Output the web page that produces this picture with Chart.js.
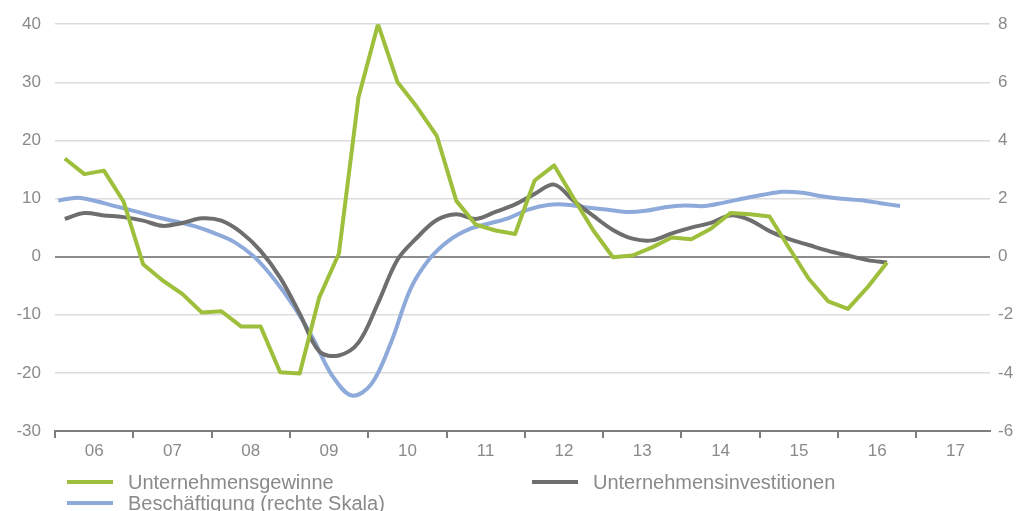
<!DOCTYPE html>
<html>
<head>
<meta charset="utf-8">
<script src="https://cdn.jsdelivr.net/npm/chart.js@4/dist/chart.umd.min.js"></script>
<style>
  html, body { margin: 0; padding: 0; background: #fff; }
  #wrap { position: relative; width: 1019px; height: 511px; }
  #legend { position: absolute; left: 0; top: 0; width: 1019px; height: 511px; pointer-events: none;
            font-family: "Liberation Sans", Arial, sans-serif; font-size: 20px; color: #8a8a8a; }
  .item { position: absolute; display: flex; align-items: center; white-space: nowrap; }
  .swatch { width: 46px; height: 4px; margin-right: 15px; }
</style>
</head>
<body>
<div id="wrap">
  <canvas id="chart" width="1019" height="511"></canvas>
  <div id="legend"></div>
</div>
<script>
// Jahre auf der x-Achse
const years = ['06', '07', '08', '09', '10', '11', '12', '13', '14', '15', '16', '17'];

// Quartalswerte ab 2006 Q1, linke Skala
const gewinne = [16.9, 14.2, 14.8, 9.5, -1.3, -4.1, -6.4, -9.6, -9.4, -12.0,
                 -12.0, -19.9, -20.1, -7.0, 0.5, 27.4, 40.0, 30.0, 25.7, 20.8,
                 9.6, 5.5, 4.5, 3.9, 13.1, 15.7, 10.0, 4.5, -0.1, 0.2,
                 1.6, 3.3, 3.0, 4.8, 7.5, 7.3, 6.9, 1.5, -3.8, -7.7,
                 -9.0, -5.3, -1.0];
const investitionen = [6.5, 7.5, 7.1, 6.8, 6.2, 5.3, 5.8, 6.6, 6.2, 4.2,
                       1.0, -3.6, -9.8, -16.3, -17.0, -14.8, -8.0, -0.5, 3.3, 6.3,
                       7.3, 6.5, 7.7, 9.0, 10.8, 12.4, 9.6, 7.0, 4.6, 3.1,
                       2.8, 4.0, 5.0, 5.8, 7.1, 6.3, 4.4, 3.0, 2.0, 1.0,
                       0.2, -0.6, -1.0];

// Beschäftigung, jeder dritte Monat ab Januar 2006, rechte Skala
const beschaeftigung = [1.93, 2.03, 1.90, 1.72, 1.55, 1.37, 1.21, 1.04, 0.80, 0.50,
                        0.0, -0.75, -1.68, -2.8, -4.1, -4.78, -4.38, -2.95, -1.1, -0.05,
                        0.58, 0.95, 1.14, 1.33, 1.62, 1.78, 1.79, 1.69, 1.62, 1.54,
                        1.58, 1.70, 1.76, 1.74, 1.86, 2.00, 2.13, 2.23, 2.20, 2.08,
                        1.99, 1.94, 1.84, 1.74];

const leftTicks = [-30, -20, -10, 0, 10, 20, 30, 40];
const rightTicks = [-6, -4, -2, 0, 2, 4, 6, 8];

const GREEN = '#9dbf3c';
const GREY = '#6e6e6e';
const BLUE = '#8eaadb';
const LABEL = '#8a8a8a';
const FONT = '"Liberation Sans", Arial, sans-serif';

// x in Jahren seit Anfang 2006; Quartalswerte in der Quartalsmitte, Monatswerte in der Monatsmitte
const quarterly = vals => vals.map((v, i) => ({ x: i * 0.25 + 0.125, y: v }));
const monthly = vals => vals.map((v, i) => ({ x: (i * 3) / 12 + 1 / 24, y: v }));

const datasets = [
  { label: 'Unternehmensgewinne', data: quarterly(gewinne), borderColor: GREEN, yAxisID: 'y', tension: 0 },
  { label: 'Unternehmensinvestitionen', data: quarterly(investitionen), borderColor: GREY, yAxisID: 'y', tension: 0.35 },
  { label: 'Beschäftigung (rechte Skala)', data: monthly(beschaeftigung), borderColor: BLUE, yAxisID: 'y2', tension: 0.35 }
];
datasets.forEach(d => {
  d.borderWidth = 4;
  d.pointRadius = 0;
  d.fill = false;
  d.borderJoinStyle = 'round';
});

new Chart(document.getElementById('chart'), {
  type: 'line',
  data: { datasets: datasets },
  options: {
    responsive: false,
    animation: false,
    layout: { padding: { top: 23, bottom: 40, left: 0, right: 0 } },
    plugins: { legend: { display: false }, tooltip: { enabled: false } },
    scales: {
      x: {
        type: 'linear',
        min: 0,
        max: 11.94,
        afterBuildTicks: axis => {
          const t = [];
          for (let i = 0; i < years.length; i++) t.push({ value: i }, { value: i + 0.5 });
          axis.ticks = t;
        },
        afterFit: axis => { axis.height = 40; },
        ticks: {
          autoSkip: false,
          maxRotation: 0,
          padding: 3,
          color: LABEL,
          font: { family: FONT, size: 17 },
          callback: v => (v % 1 === 0.5 ? years[Math.floor(v)] : '')
        },
        grid: {
          drawOnChartArea: false,
          tickLength: 7,
          lineWidth: 2,
          color: ctx => (ctx.tick && ctx.tick.value % 1 === 0 ? '#7d7d7d' : 'rgba(0,0,0,0)')
        },
        border: { display: true, color: '#7d7d7d', width: 2 }
      },
      y: {
        position: 'left',
        min: -30,
        max: 40,
        afterBuildTicks: axis => { axis.ticks = leftTicks.map(v => ({ value: v })); },
        afterFit: axis => { axis.width = 55; },
        ticks: { color: LABEL, padding: 14, font: { family: FONT, size: 17 } },
        grid: {
          drawTicks: false,
          color: ctx => (ctx.tick && ctx.tick.value === 0 ? '#8c8c8c' : '#dcdcdc'),
          lineWidth: ctx => (ctx.tick && ctx.tick.value === 0 ? 2 : 1.5)
        },
        border: { display: false }
      },
      y2: {
        position: 'right',
        min: -6,
        max: 8,
        afterBuildTicks: axis => { axis.ticks = rightTicks.map(v => ({ value: v })); },
        afterFit: axis => { axis.width = 29; },
        ticks: { color: LABEL, padding: 8, font: { family: FONT, size: 17 } },
        grid: { drawOnChartArea: false, drawTicks: false },
        border: { display: false }
      }
    }
  }
});

// Legende unter dem Diagramm, zwei Spalten
const legendPos = [
  { left: 67, top: 482 },
  { left: 532, top: 482 },
  { left: 67, top: 503 }
];
const legend = document.getElementById('legend');
datasets.forEach((d, i) => {
  const item = document.createElement('div');
  item.className = 'item';
  item.style.left = legendPos[i].left + 'px';
  item.style.top = (legendPos[i].top - 11) + 'px';
  item.style.height = '22px';
  const sw = document.createElement('span');
  sw.className = 'swatch';
  sw.style.background = d.borderColor;
  const txt = document.createElement('span');
  txt.textContent = d.label;
  item.appendChild(sw);
  item.appendChild(txt);
  legend.appendChild(item);
});
</script>
</body>
</html>
